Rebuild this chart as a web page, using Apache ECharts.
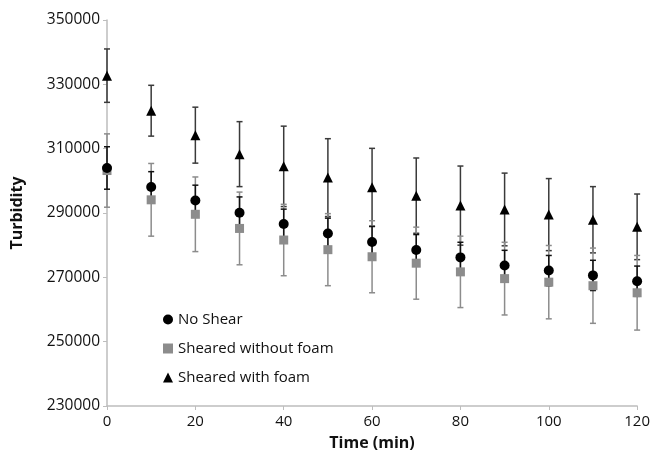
<!DOCTYPE html>
<html>
<head>
<meta charset="utf-8">
<script src="https://cdn.jsdelivr.net/npm/echarts@6/dist/echarts.min.js"></script>
<style>
  html, body { margin: 0; padding: 0; background: #fff; }
  #main { width: 653px; height: 456px; }
</style>
</head>
<body>
<div id="main"></div>
<script>
// time (min)
const times = [0, 10, 20, 30, 40, 50, 60, 70, 80, 90, 100, 110, 120]

// turbidity
const noShear = [304000, 298100, 293900, 290100, 286600, 283600, 281000, 278500, 276200, 273700, 272100, 270600, 268800]
const noShearErr = [6600, 4750, 4750, 4900, 4600, 4800, 4800, 4800, 4700, 4700, 4700, 4700, 4700]

const shearedNoFoam = [303200, 294100, 289600, 285200, 281600, 278600, 276400, 274400, 271700, 269600, 268500, 267400, 265200]
const shearedNoFoamErr = [11400, 11300, 11600, 11300, 11100, 11200, 11200, 11200, 11100, 11300, 11400, 11700, 11600]

const shearedFoam = [332700, 321800, 314200, 308300, 304500, 301000, 298000, 295400, 292300, 291100, 289500, 287900, 285700]
const shearedFoamErr = [8300, 7900, 8700, 10100, 12500, 12100, 12100, 11700, 12300, 11300, 11200, 10300, 10200]

const yTicks = { min: 230000, max: 350000, step: 20000 }

const chart = echarts.init(document.getElementById('main'))

// 误差棒数据 [x, low, high]
const errData = (vals, errs) => times.map((t, i) => [t, vals[i] - errs[i], vals[i] + errs[i]])
const pts = (vals) => times.map((t, i) => [t, vals[i]])

const errorBars = (name, vals, errs, color) => ({
    type: 'custom',
    name: name,
    silent: true,
    z: 1,
    data: errData(vals, errs),
    renderItem: (params, api) => {
        const top = api.coord([api.value(0), api.value(2)])
        const bot = api.coord([api.value(0), api.value(1)])
        const w = 3
        const st = { stroke: color, lineWidth: 1.5 }
        return {
            type: 'group',
            children: [
                { type: 'line', shape: { x1: top[0], y1: top[1], x2: bot[0], y2: bot[1] }, style: st },
                { type: 'line', shape: { x1: top[0] - w, y1: top[1], x2: top[0] + w, y2: top[1] }, style: st },
                { type: 'line', shape: { x1: bot[0] - w, y1: bot[1], x2: bot[0] + w, y2: bot[1] }, style: st }
            ]
        }
    }
})

const font = '"Open Sans", "DejaVu Sans", sans-serif'

const option = {
    animation: false,
    textStyle: { fontFamily: font },
    grid: { left: 107, right: 15, top: 20, bottom: 50, containLabel: false },
    legend: {
        orient: 'vertical',
        left: 158,
        top: 307,
        itemGap: 14,
        itemWidth: 10,
        itemHeight: 10,
        textStyle: { fontSize: 15, color: '#111', fontFamily: font },
        data: [
            { name: 'No Shear', icon: 'circle', itemStyle: { color: '#000' } },
            { name: 'Sheared without foam', icon: 'rect', itemStyle: { color: '#8c8c8c' } },
            { name: 'Sheared with foam', icon: 'triangle', itemStyle: { color: '#000' } }
        ]
    },
    xAxis: {
        type: 'value',
        min: 0,
        max: 120,
        interval: 20,
        name: 'Time (min)',
        nameLocation: 'middle',
        nameGap: 29,
        nameTextStyle: { fontSize: 16, fontWeight: 'bold', color: '#111', fontFamily: font },
        axisLine: { lineStyle: { color: '#bdbdbd', width: 1.5 } },
        axisTick: { show: true, length: 4, lineStyle: { color: '#bdbdbd' } },
        axisLabel: { fontSize: 15, color: '#111', margin: 8 },
        splitLine: { show: false }
    },
    yAxis: {
        type: 'value',
        min: yTicks.min,
        max: yTicks.max,
        interval: yTicks.step,
        name: 'Turbidity',
        nameLocation: 'middle',
        nameGap: 82,
        nameRotate: 90,
        nameTextStyle: { fontSize: 16, fontWeight: 'bold', color: '#111', fontFamily: font },
        axisLine: { show: true, lineStyle: { color: '#bdbdbd', width: 1.5 } },
        axisTick: { show: true, length: 4, lineStyle: { color: '#bdbdbd' } },
        axisLabel: { fontSize: 15.5, color: '#111', margin: 7, formatter: (v) => String(v) },
        splitLine: { show: false }
    },
    series: [
        errorBars('errFoam', shearedFoam, shearedFoamErr, '#3a3a3a'),
        errorBars('errNoFoam', shearedNoFoam, shearedNoFoamErr, '#8c8c8c'),
        errorBars('errNoShear', noShear, noShearErr, '#111'),
        {
            name: 'Sheared with foam',
            type: 'scatter',
            symbol: 'triangle',
            symbolSize: 10,
            z: 3,
            itemStyle: { color: '#000', opacity: 1 },
            data: pts(shearedFoam)
        },
        {
            name: 'Sheared without foam',
            type: 'scatter',
            symbol: 'rect',
            symbolSize: 9,
            z: 3,
            itemStyle: { color: '#8c8c8c', opacity: 1 },
            data: pts(shearedNoFoam)
        },
        {
            name: 'No Shear',
            type: 'scatter',
            symbol: 'circle',
            symbolSize: 10,
            z: 3,
            itemStyle: { color: '#000', opacity: 1 },
            data: pts(noShear)
        }
    ]
}

chart.setOption(option)

window.addEventListener('resize', () => {
    chart.resize()
})
</script>
</body>
</html>
